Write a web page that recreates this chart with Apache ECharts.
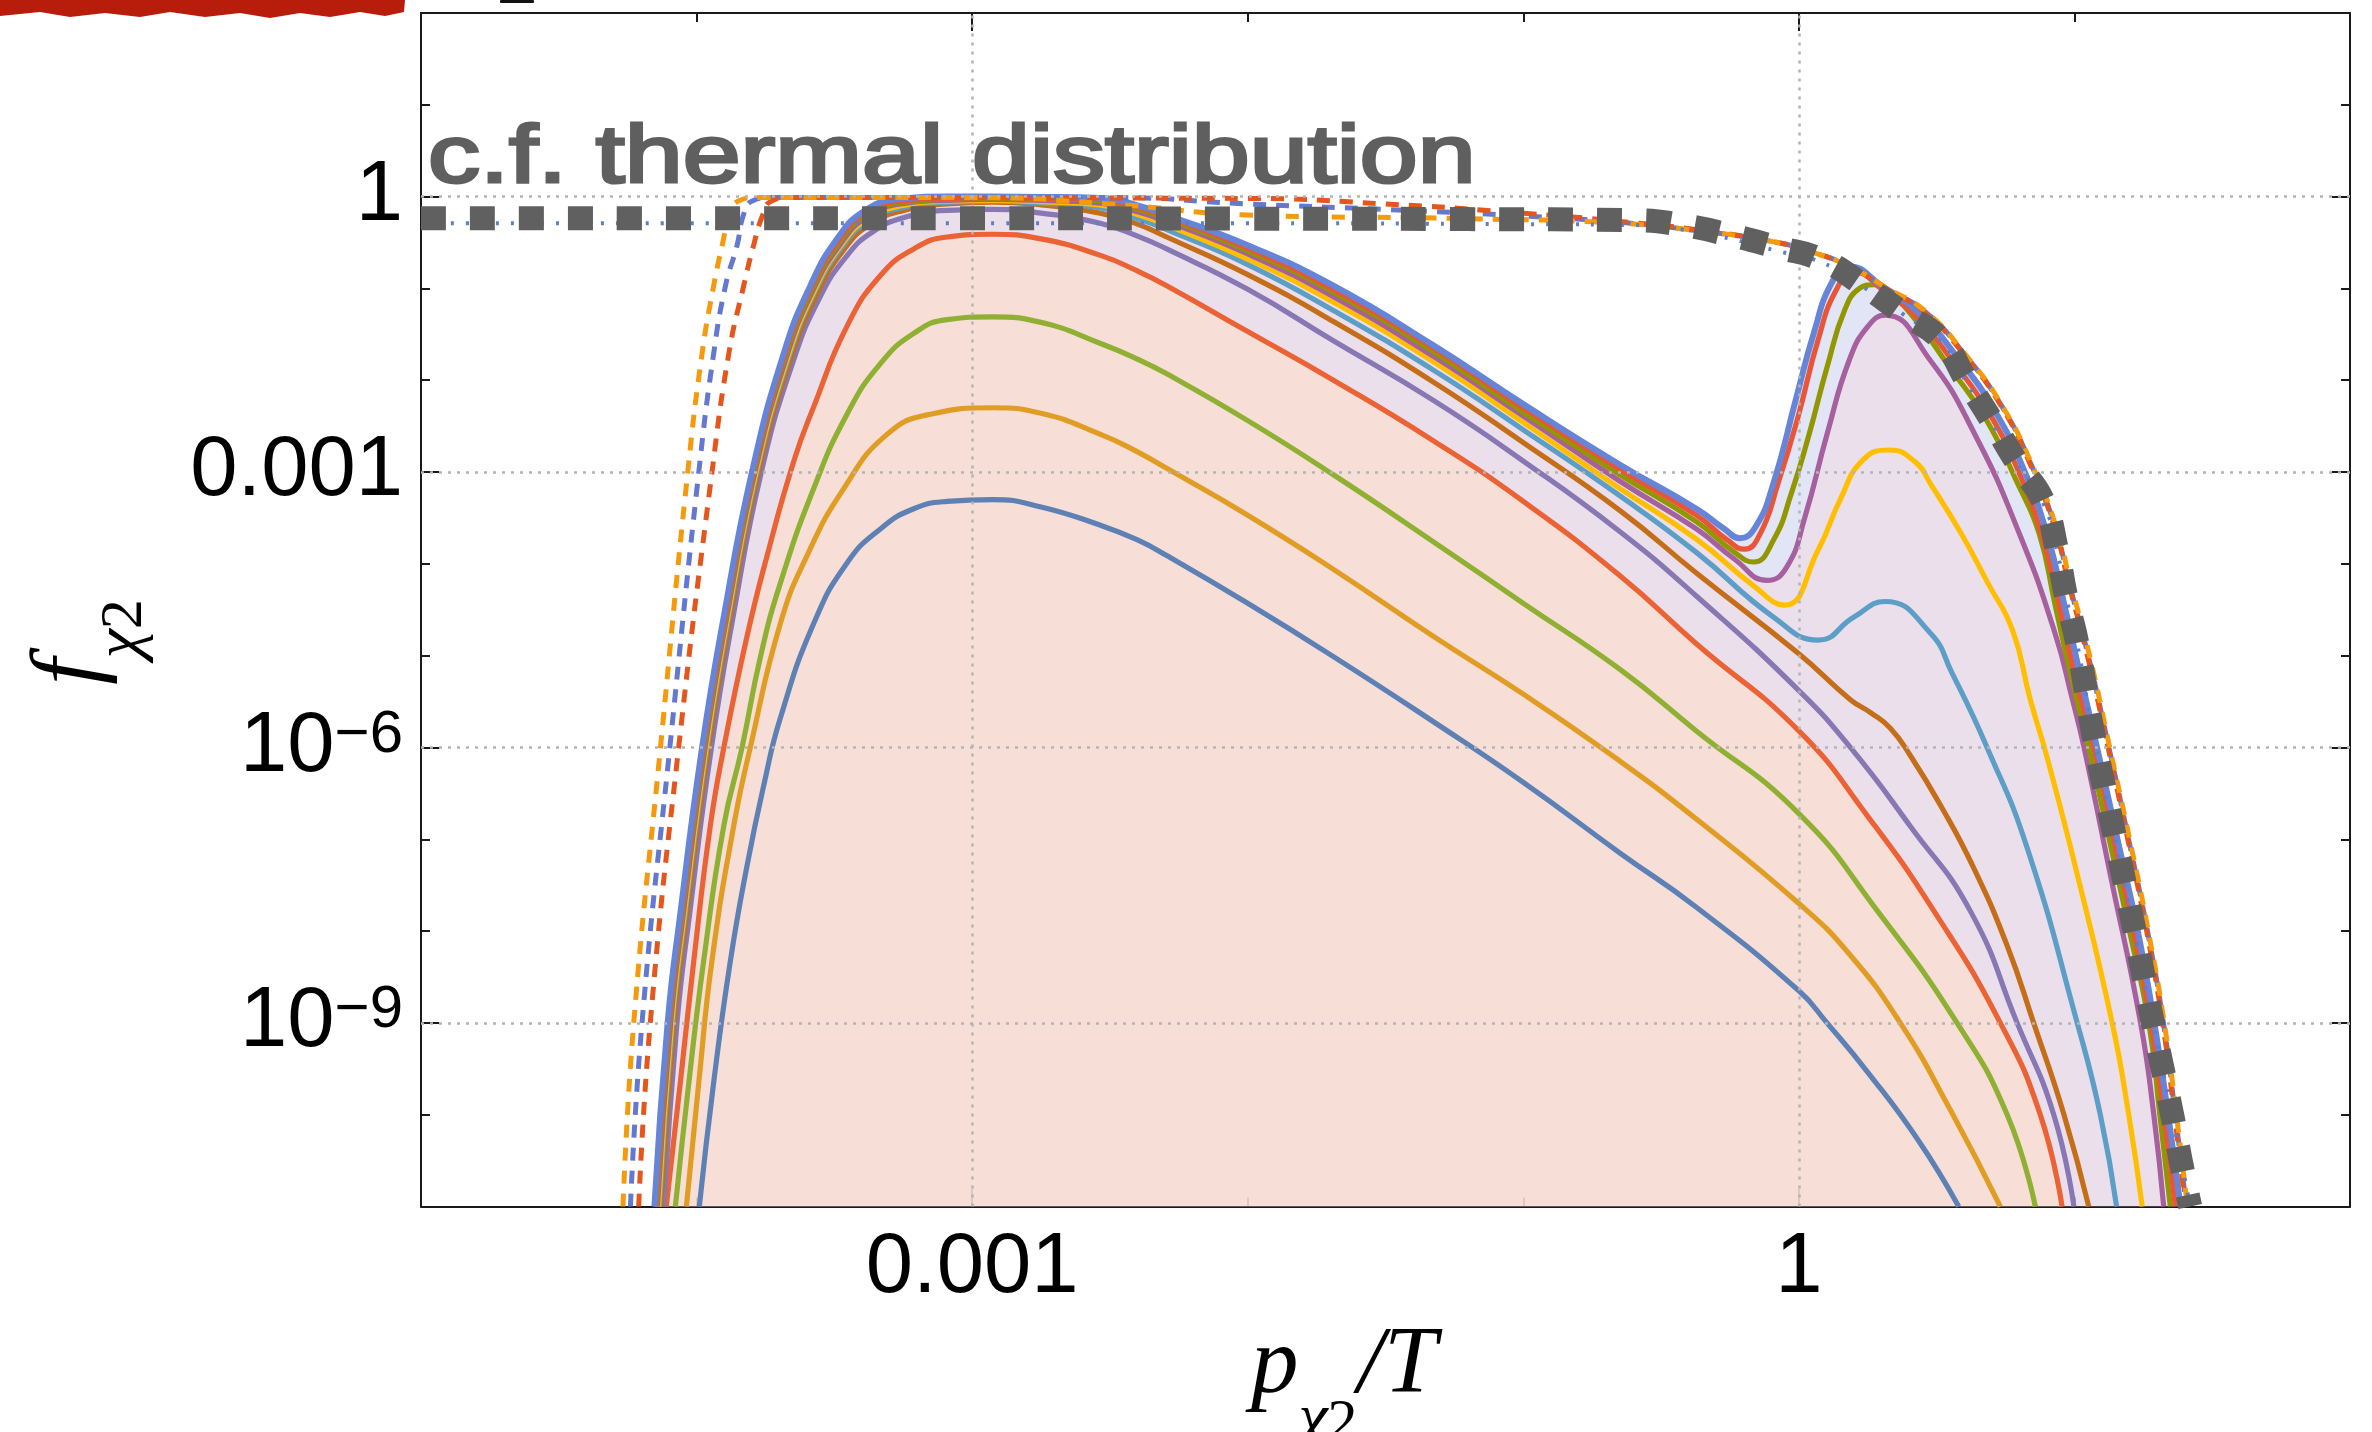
<!DOCTYPE html>
<html>
<head>
<meta charset="utf-8">
<script src="https://cdn.jsdelivr.net/npm/echarts@6/dist/echarts.min.js"></script>
<style>
  html, body { margin: 0; padding: 0; background: #ffffff; }
  #chart { width: 2372px; height: 1432px; }
</style>
</head>
<body>
<div id="chart"></div>
<script>
// Momentum distributions f_chi2 against p_chi2/T, both axes logarithmic.
// Every point below is stored as [log10(p/T), log10 f].

const xRange = [-5, 2];
const yRange = [-11, 2];
const xLabelAt = [-3, 0];
const xLabelText = ['0.001', '1'];
const yLabelAt = [0, -3, -6, -9];
const yLabelText = ['1', '0.001', '10{sup|\u22126}', '10{sup|\u22129}'];
const gridX = [-3, 0];
const gridY = [0, -3, -6, -9];

const curve1 = [[-3.99,-11],[-3.938,-9.65],[-3.877,-8.32],[-3.817,-7.29],[-3.756,-6.41],[-3.696,-5.68],[-3.575,-4.65],[-3.454,-3.99],[-3.333,-3.62],[-3.212,-3.40],[-3.091,-3.32],[-2.927,-3.30],[-2.75,-3.38],[-2.534,-3.58],[-2.4,-3.74],[-2.294,-3.91],[-2.0,-4.43],[-1.689,-5.01],[-1.326,-5.72],[-1.0,-6.38],[-0.649,-7.15],[-0.372,-7.74],[0,-8.65],[0.102,-9.0],[0.248,-9.53],[0.429,-10.26],[0.58,-11]];
const curve2 = [[-4.037,-11],[-3.992,-9.65],[-3.944,-8.32],[-3.865,-6.85],[-3.805,-6.0],[-3.696,-4.65],[-3.599,-3.91],[-3.466,-3.18],[-3.309,-2.59],[-3.151,-2.37],[-2.927,-2.30],[-2.75,-2.36],[-2.534,-2.59],[-2.4,-2.78],[-2.294,-2.96],[-2.0,-3.47],[-1.689,-4.06],[-1.326,-4.79],[-1.0,-5.42],[-0.649,-6.15],[-0.372,-6.78],[0,-7.70],[0.183,-8.25],[0.368,-9.0],[0.55,-9.95],[0.731,-11]];
const curve3 = [[-4.077,-11],[-4.028,-9.65],[-3.974,-8.32],[-3.901,-6.85],[-3.835,-6.0],[-3.768,-5.01],[-3.696,-4.21],[-3.575,-3.18],[-3.454,-2.37],[-3.333,-1.82],[-3.212,-1.49],[-3.091,-1.34],[-2.927,-1.31],[-2.75,-1.37],[-2.534,-1.60],[-2.4,-1.77],[-2.294,-1.93],[-2.0,-2.44],[-1.689,-3.03],[-1.326,-3.76],[-1.0,-4.43],[-0.649,-5.15],[-0.372,-5.82],[0,-6.72],[0.285,-7.78],[0.574,-9.0],[0.756,-10.0],[0.858,-11]];
const curve4 = [[-4.11,-11],[-4.059,-9.65],[-4.01,-8.32],[-3.95,-6.85],[-3.901,-6.0],[-3.817,-4.79],[-3.744,-3.91],[-3.647,-2.88],[-3.575,-2.29],[-3.454,-1.41],[-3.333,-0.86],[-3.212,-0.57],[-3.091,-0.44],[-2.927,-0.41],[-2.75,-0.46],[-2.534,-0.64],[-2.4,-0.81],[-2.294,-0.97],[-2.0,-1.47],[-1.689,-2.0],[-1.326,-2.66],[-1.0,-3.32],[-0.649,-4.13],[-0.372,-4.87],[0,-5.82],[0.25,-6.75],[0.49,-7.78],[0.731,-9.0],[0.876,-10.0],[0.955,-11]];
const curve5 = [[-4.119,-11],[-4.071,-9.0],[-4.025,-7.81],[-3.946,-6.0],[-3.867,-4.57],[-3.765,-3.0],[-3.65,-1.80],[-3.553,-1.10],[-3.456,-0.65],[-3.359,-0.38],[-3.238,-0.22],[-3.09,-0.15],[-2.927,-0.14],[-2.75,-0.18],[-2.536,-0.29],[-2.4,-0.43],[-2.294,-0.57],[-2.0,-1.01],[-1.689,-1.57],[-1.326,-2.22],[-1.0,-2.88],[-0.649,-3.65],[-0.372,-4.35],[0,-5.38],[0.187,-6.0],[0.405,-6.86],[0.622,-7.78],[0.792,-9.0],[0.925,-10.0],[0.998,-11]];
const curve6 = [[-4.129,-11],[-4.081,-9.0],[-4.035,-7.81],[-3.956,-6.0],[-3.877,-4.57],[-3.775,-3.0],[-3.66,-1.78],[-3.563,-1.06],[-3.466,-0.58],[-3.369,-0.30],[-3.248,-0.15],[-3.09,-0.08],[-2.927,-0.06],[-2.75,-0.09],[-2.536,-0.18],[-2.4,-0.30],[-2.294,-0.44],[-2.0,-0.85],[-1.689,-1.36],[-1.326,-2.02],[-1.0,-2.68],[-0.649,-3.42],[-0.372,-4.10],[0,-4.98],[0.187,-5.48],[0.26,-5.62],[0.332,-5.79],[0.405,-6.09],[0.514,-6.63],[0.634,-7.31],[0.756,-8.16],[0.852,-9.0],[0.961,-9.99],[1.052,-11]];
const curve7 = [[-4.135,-11],[-4.087,-9.0],[-4.041,-7.81],[-3.962,-6.0],[-3.883,-4.57],[-3.781,-3.0],[-3.666,-1.76],[-3.569,-1.03],[-3.472,-0.55],[-3.375,-0.26],[-3.254,-0.12],[-3.09,-0.06],[-2.927,-0.05],[-2.75,-0.07],[-2.536,-0.12],[-2.4,-0.24],[-2.294,-0.36],[-2.0,-0.74],[-1.689,-1.24],[-1.326,-1.89],[-1.0,-2.54],[-0.649,-3.26],[-0.372,-3.875],[-0.092,-4.58],[0.07,-4.83],[0.2,-4.58],[0.313,-4.41],[0.476,-4.75],[0.556,-5.19],[0.683,-6.0],[0.828,-7.09],[1.01,-9.0],[1.094,-10.0],[1.153,-11]];
const curve8 = [[-4.138,-11],[-4.09,-9.0],[-4.044,-7.81],[-3.965,-6.0],[-3.886,-4.57],[-3.784,-3.0],[-3.669,-1.75],[-3.572,-1.02],[-3.475,-0.53],[-3.378,-0.24],[-3.257,-0.10],[-3.09,-0.05],[-2.927,-0.04],[-2.75,-0.055],[-2.536,-0.09],[-2.4,-0.195],[-2.294,-0.31],[-2.0,-0.68],[-1.689,-1.15],[-1.326,-1.80],[-1.0,-2.46],[-0.649,-3.18],[-0.372,-3.73],[-0.164,-4.24],[-0.053,-4.45],[0.07,-3.85],[0.15,-3.30],[0.232,-2.87],[0.328,-2.76],[0.426,-2.90],[0.476,-3.12],[0.589,-3.67],[0.686,-4.21],[0.775,-4.72],[0.84,-5.48],[0.9,-6.1],[1.01,-7.38],[1.137,-9.0],[1.197,-10.0],[1.246,-11]];
const curve9 = [[-4.142,-11],[-4.094,-9.0],[-4.048,-7.81],[-3.969,-6.0],[-3.89,-4.57],[-3.788,-3.0],[-3.673,-1.74],[-3.576,-1.01],[-3.479,-0.52],[-3.382,-0.22],[-3.261,-0.08],[-3.09,-0.04],[-2.927,-0.03],[-2.75,-0.04],[-2.536,-0.07],[-2.4,-0.165],[-2.294,-0.27],[-2.0,-0.625],[-1.689,-1.09],[-1.326,-1.74],[-1.0,-2.39],[-0.649,-3.10],[-0.372,-3.62],[-0.233,-3.95],[-0.116,-4.18],[-0.043,-4.03],[0.022,-3.49],[0.103,-2.58],[0.183,-1.78],[0.249,-1.42],[0.313,-1.29],[0.476,-1.78],[0.637,-2.58],[0.8,-3.67],[0.929,-4.75],[0.993,-5.48],[1.035,-6.0],[1.13,-7.38],[1.24,-9.0],[1.288,-10.0],[1.324,-11]];
const curve10 = [[-4.146,-11],[-4.098,-9.0],[-4.052,-7.81],[-3.973,-6.0],[-3.894,-4.57],[-3.792,-3.0],[-3.677,-1.73],[-3.58,-1.0],[-3.483,-0.50],[-3.386,-0.20],[-3.265,-0.07],[-3.09,-0.03],[-2.927,-0.02],[-2.75,-0.025],[-2.536,-0.044],[-2.4,-0.135],[-2.294,-0.24],[-2.0,-0.59],[-1.689,-1.04],[-1.326,-1.69],[-1.0,-2.35],[-0.649,-3.03],[-0.372,-3.54],[-0.233,-3.875],[-0.165,-3.98],[-0.092,-3.74],[-0.027,-3.23],[0.038,-2.58],[0.103,-1.85],[0.167,-1.23],[0.22,-1.0],[0.27,-0.96],[0.33,-1.05],[0.42,-1.33],[0.545,-1.85],[0.68,-2.43],[0.79,-3.1],[0.872,-3.67],[0.93,-4.45],[0.99,-5.25],[1.052,-6.0],[1.13,-7.05],[1.2,-8.0],[1.27,-9.0],[1.31,-10.0],[1.348,-11]];
const curve11 = [[-4.149,-11],[-4.101,-9.0],[-4.055,-7.81],[-3.976,-6.0],[-3.897,-4.57],[-3.795,-3.0],[-3.68,-1.72],[-3.583,-0.98],[-3.486,-0.48],[-3.389,-0.18],[-3.268,-0.05],[-3.09,-0.02],[-2.927,-0.01],[-2.75,-0.015],[-2.536,-0.03],[-2.4,-0.115],[-2.294,-0.22],[-2.0,-0.56],[-1.689,-1.01],[-1.326,-1.65],[-1.0,-2.30],[-0.649,-2.97],[-0.372,-3.47],[-0.26,-3.74],[-0.198,-3.84],[-0.14,-3.67],[-0.075,-3.12],[-0.003,-2.40],[0.07,-1.56],[0.135,-1.02],[0.2,-0.82],[0.31,-1.03],[0.43,-1.32],[0.56,-1.8],[0.695,-2.38],[0.805,-3.05],[0.885,-3.72],[0.945,-4.45],[1.005,-5.25],[1.07,-6.0],[1.147,-7.05],[1.215,-8.0],[1.278,-9.0],[1.325,-10.0],[1.366,-11]];
const curve12 = [[-4.153,-11],[-4.105,-9.0],[-4.059,-7.81],[-3.98,-6.0],[-3.901,-4.57],[-3.799,-3.0],[-3.684,-1.71],[-3.587,-0.97],[-3.49,-0.46],[-3.393,-0.16],[-3.272,-0.03],[-3.09,0.0],[-2.927,0.0],[-2.75,-0.003],[-2.536,-0.015],[-2.4,-0.095],[-2.294,-0.2],[-2.0,-0.53],[-1.689,-0.97],[-1.326,-1.62],[-1.0,-2.26],[-0.649,-2.92],[-0.372,-3.40],[-0.27,-3.62],[-0.215,-3.72],[-0.156,-3.59],[-0.092,-3.12],[-0.011,-2.21],[0.054,-1.49],[0.119,-0.94],[0.183,-0.76],[0.30,-0.97],[0.44,-1.28],[0.575,-1.75],[0.71,-2.33],[0.82,-3.0],[0.9,-3.67],[0.96,-4.4],[1.02,-5.2],[1.082,-6.0],[1.16,-7.05],[1.23,-8.0],[1.29,-9.0],[1.34,-10.0],[1.385,-11]];

// dashed reference curves
const dashedOrange = [[-4.267,-11],[-4.228,-9.0],[-4.131,-6.0],[-4.032,-3.0],[-3.98,-1.71],[-3.938,-0.97],[-3.907,-0.53],[-3.88,-0.2],[-3.85,-0.05],[-3.78,-0.01],[-3.0,-0.01],[-2.5,-0.08],[-2.0,-0.2],[-1.2,-0.24],[-0.649,-0.29],[-0.372,-0.37],[-0.094,-0.49],[0.044,-0.60],[0.183,-0.76],[0.322,-1.0],[0.46,-1.25],[0.599,-1.70],[0.738,-2.28],[0.852,-2.96],[0.936,-3.62],[0.985,-4.2],[1.055,-5.0],[1.128,-6.0],[1.204,-7.05],[1.268,-8.0],[1.326,-9.0],[1.37,-10.0],[1.41,-11]];
const dashedBlue = [[-4.24,-11],[-4.198,-9.0],[-4.097,-6.0],[-3.992,-3.0],[-3.938,-1.71],[-3.895,-0.97],[-3.853,-0.53],[-3.83,-0.2],[-3.80,-0.05],[-3.73,-0.01],[-2.5,-0.01],[-2.0,-0.08],[-1.5,-0.14],[-1.0,-0.21],[-0.649,-0.28],[-0.372,-0.37],[-0.094,-0.49],[0.044,-0.60],[0.183,-0.76],[0.322,-1.01],[0.46,-1.26],[0.599,-1.71],[0.738,-2.29],[0.849,-2.96],[0.932,-3.62],[0.98,-4.2],[1.05,-5.0],[1.125,-6.0],[1.2,-7.05],[1.265,-8.0],[1.323,-9.0],[1.366,-10.0],[1.406,-11]];
const dashedRed = [[-4.21,-11],[-4.168,-9.0],[-4.065,-6.0],[-3.944,-3.0],[-3.883,-1.71],[-3.829,-0.97],[-3.793,-0.53],[-3.76,-0.2],[-3.73,-0.05],[-3.66,-0.01],[-2.0,-0.02],[-1.5,-0.08],[-1.0,-0.18],[-0.649,-0.27],[-0.372,-0.36],[-0.094,-0.49],[0.044,-0.60],[0.183,-0.76],[0.322,-1.01],[0.46,-1.27],[0.599,-1.72],[0.738,-2.30],[0.846,-2.96],[0.93,-3.62],[0.978,-4.2],[1.047,-5.0],[1.122,-6.0],[1.197,-7.05],[1.262,-8.0],[1.32,-9.0],[1.363,-10.0],[1.403,-11]];

// thermal reference (thick grey squares) and the fine blue dotted line under it
const thermal = [[-5,-0.235],[-4,-0.235],[-3,-0.235],[-2,-0.24],[-1.2,-0.245],[-0.594,-0.257],[-0.42,-0.31],[-0.247,-0.42],[-0.08,-0.55],[0.085,-0.69],[0.232,-0.96],[0.378,-1.27],[0.516,-1.56],[0.61,-2.01],[0.702,-2.45],[0.79,-2.89],[0.887,-3.32],[0.937,-3.85],[0.97,-4.36],[1.01,-4.86],[1.07,-5.88],[1.143,-6.92],[1.215,-7.95],[1.282,-8.96],[1.354,-9.99],[1.385,-10.49],[1.42,-11]];
const thermalDots = [[-5,-0.29],[-3,-0.29],[-2,-0.29],[-1,-0.3],[-0.594,-0.31],[-0.42,-0.36],[-0.247,-0.46],[-0.08,-0.59],[0.085,-0.72],[0.232,-0.98],[0.378,-1.28],[0.516,-1.58],[0.61,-2.03],[0.702,-2.47],[0.79,-2.9],[0.887,-3.34],[0.937,-3.86],[0.97,-4.37],[1.01,-4.87],[1.07,-5.9],[1.143,-6.94],[1.215,-7.96],[1.282,-8.97],[1.354,-10.0],[1.42,-11]];

const solidCurves = [curve1, curve2, curve3, curve4, curve5, curve6, curve7, curve8, curve9, curve10, curve11, curve12];
const solidColors = ['#5E81B5','#E19C24','#8FB032','#EB6235','#8778B3','#C56E1A','#5D9EC7','#FFBF00','#A5609D','#929600','#E95536','#6685D9'];

const SMOOTH = 0.5;
const sansFont = '"Liberation Sans", Arial, Helvetica, sans-serif';
const serifFont = '"Liberation Serif", "Times New Roman", serif';
const inkColor = '#1a1a1a';

function lineSeries(data, color, width, dash, z) {
  return {
    type: 'line', data: data, xAxisIndex: 0, yAxisIndex: 0,
    smooth: SMOOTH, showSymbol: false, symbol: 'none', silent: true, z: z,
    lineStyle: { color: color, width: width, type: dash || 'solid', cap: 'butt', join: 'round' }
  };
}
function fillSeries(data, color, z) {
  return {
    type: 'line', data: data, xAxisIndex: 0, yAxisIndex: 0,
    smooth: SMOOTH, showSymbol: false, symbol: 'none', silent: true, z: z,
    lineStyle: { width: 0, opacity: 0 },
    areaStyle: { color: color, origin: 'start', opacity: 1 }
  };
}

const series = [];
// dotted grid lines
series.push({
  type: 'line', data: [], xAxisIndex: 0, yAxisIndex: 0, silent: true, z: 0,
  markLine: {
    silent: true, symbol: ['none', 'none'], animation: false,
    label: { show: false },
    lineStyle: { color: '#b4b4b4', width: 2.5, type: [3, 6] },
    data: gridX.map(v => ({ xAxis: v })).concat(gridY.map(v => ({ yAxis: v })))
  }
});
// shaded regions (translucent, layered)
series.push(fillSeries(curve12, 'rgba(195,203,235,0.5)', 1));
series.push(fillSeries(curve9, 'rgba(247,217,227,0.5)', 1));
series.push(fillSeries(curve4, 'rgba(255,221,201,0.6)', 1));
// solid curves
solidCurves.forEach((c, i) => {
  series.push(lineSeries(c, solidColors[i], i === 11 ? 6 : 5.2, 'solid', 3));
});
// dashed curves
series.push(lineSeries(dashedBlue, '#6478D0', 5, [13, 10], 4));
series.push(lineSeries(dashedRed, '#E4561B', 5, [13, 10], 4));
series.push(lineSeries(dashedOrange, '#F59A0C', 5, [13, 10], 4));
// thermal reference
series.push(lineSeries(thermalDots, '#5E7FC8', 4, [3, 12], 5));
series.push(lineSeries(thermal, '#606060', 24, [25, 24], 6));

function frameLine(show) {
  return { show: show, onZero: false, lineStyle: { color: inkColor, width: 2 } };
}
function xAxis(pos, major, labels) {
  return {
    type: 'value', position: pos, min: xRange[0], max: xRange[1], interval: 1,
    axisLine: frameLine(!major),
    splitLine: { show: false },
    axisTick: major
      ? { show: true, inside: true, length: 18, customValues: xLabelAt, lineStyle: { color: inkColor, width: 2 } }
      : { show: true, inside: true, length: 9, lineStyle: { color: inkColor, width: 2 } },
    axisLabel: labels ? {
      show: true, customValues: xLabelAt, margin: 20,
      fontSize: 85, fontFamily: sansFont, color: '#000',
      formatter: v => { const k = xLabelAt.indexOf(v); return k < 0 ? '' : xLabelText[k]; }
    } : { show: false }
  };
}
function yAxis(pos, major, labels) {
  return {
    type: 'value', position: pos, min: yRange[0], max: yRange[1], interval: 1,
    axisLine: frameLine(!major),
    splitLine: { show: false },
    axisTick: major
      ? { show: true, inside: true, length: 18, customValues: yLabelAt, lineStyle: { color: inkColor, width: 2 } }
      : { show: true, inside: true, length: 9, lineStyle: { color: inkColor, width: 2 } },
    axisLabel: labels ? {
      show: true, customValues: yLabelAt, margin: 18,
      fontSize: 85, lineHeight: 85, fontFamily: sansFont, color: '#000',
      formatter: v => { const k = yLabelAt.indexOf(v); return k < 0 ? '' : yLabelText[k]; },
      rich: { sup: { fontSize: 60, lineHeight: 28, verticalAlign: 'top', fontFamily: sansFont, color: '#000' } }
    } : { show: false }
  };
}

// axis titles: italic main letter with a lowered chi_2 subscript
function titleRich(mainLineHeight) {
  return {
    m: { fontFamily: serifFont, fontStyle: 'italic', fontSize: 95, lineHeight: mainLineHeight, color: '#000' },
    s: { fontFamily: serifFont, fontStyle: 'italic', fontSize: 66, lineHeight: 34, verticalAlign: 'bottom', color: '#000' },
    n: { fontFamily: serifFont, fontSize: 60, lineHeight: 34, verticalAlign: 'bottom', color: '#000' }
  };
}

const chart = echarts.init(document.getElementById('chart'), null, { renderer: 'canvas' });
chart.setOption({
  animation: false,
  backgroundColor: '#ffffff',
  grid: { left: 421, right: 22, top: 13, bottom: 225.5, outerBoundsMode: 'none' },
  xAxis: [xAxis('bottom', false, true), xAxis('bottom', true, false), xAxis('top', false, false), xAxis('top', true, false)],
  yAxis: [yAxis('left', false, true), yAxis('left', true, false), yAxis('right', false, false), yAxis('right', true, false)],
  series: series,
  graphic: [
    { type: 'polygon', silent: true, z: 10,
      shape: { points: [[0,0],[405,0],[404,12],[385,16],[360,12],[330,17],[300,13],[270,18],[240,13],[205,17],[170,12],[140,17],[105,13],[70,17],[40,12],[0,16]] },
      style: { fill: '#B71D0A' } },
    { type: 'rect', silent: true, z: 10, shape: { x: 500, y: 0, width: 34, height: 3, r: 1 }, style: { fill: '#111' } },
    { type: 'text', silent: true, z: 20, x: 428, y: 159, scaleX: 1.27, scaleY: 1,
      style: { text: 'c.f. thermal distribution', font: '82px "Liberation Sans"', fill: '#5f5f5f',
               stroke: '#5f5f5f', lineWidth: 3, align: 'left', verticalAlign: 'middle' } },
    { type: 'text', silent: true, z: 20, x: -11, y: 642, rotation: Math.PI / 2,
      style: { text: '{m|f}{s|\u03C7}{n|2}', rich: titleRich(166), align: 'center', verticalAlign: 'top', fill: '#000' } },
    { type: 'text', silent: true, z: 20, x: 1251, y: 1280,
      style: { text: '{m|p}{s|\u03C7}{n|2}{m|/T}', rich: titleRich(174), align: 'left', verticalAlign: 'top', fill: '#000' } }
  ]
});
</script>
</body>
</html>
